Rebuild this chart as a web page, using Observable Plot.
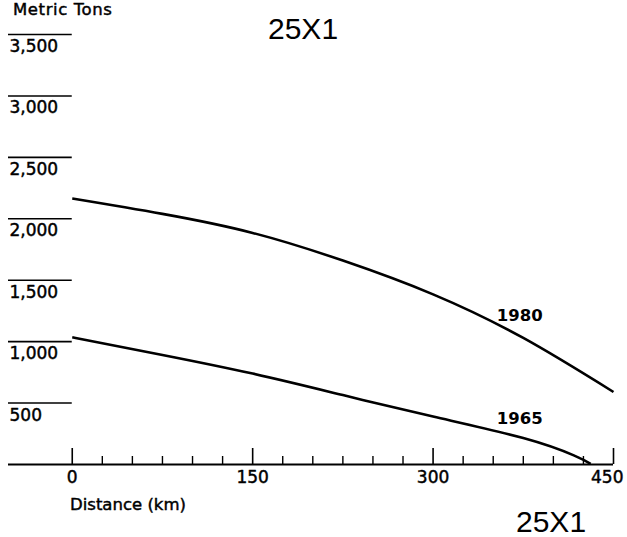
<!DOCTYPE html>
<html>
<head>
<meta charset="utf-8">
<script src="https://cdn.jsdelivr.net/npm/d3@7"></script>
<script src="https://cdn.jsdelivr.net/npm/@observablehq/plot@0.6"></script>
<style>
  html, body { margin: 0; padding: 0; background: #fff; }
  #wrap { position: relative; width: 627px; height: 537px; overflow: hidden; }
  #wrap > svg { position: absolute; left: 0; top: 0; }
  #overlay { position: absolute; left: 0; top: 0; pointer-events: none; }
</style>
</head>
<body>
<div id="wrap"></div>
<script>
// ---- data ----
const dist1980 = [0, 75, 150, 225, 300, 375, 450];
const tons1980 = [2165, 2040, 1885, 1660, 1385, 1030, 590];
const dist1965 = [0, 75, 150, 225, 300, 375, 417, 431];
const tons1965 = [1035, 892, 740, 565, 390, 215, 74, 5];
const yTicks = [500, 1000, 1500, 2000, 2500, 3000, 3500];
const yTickLabels = ["500", "1,000", "1,500", "2,000", "2,500", "3,000", "3,500"];
const xMajor = [0, 150, 300, 450];
const xMajorLabels = ["0", "150", "300", "450"];
const xMinor = [25, 50, 75, 100, 125, 175, 200, 225, 250, 275, 325, 350, 375, 400, 425];
const seriesLabels = ["1980", "1965"];
const labelX = [372, 372];
const labelY = [1210, 372];
const xMin = -53, xMax = 450;

const rows = [
  ...dist1980.map((d, i) => ({year: "1980", d, t: tons1980[i]})),
  ...dist1965.map((d, i) => ({year: "1965", d, t: tons1965[i]}))
];
const yt = yTicks.map((v, i) => ({v, s: yTickLabels[i]}));
const xm = xMajor.map((v, i) => ({v, s: xMajorLabels[i]}));
const xmInner = xm.slice(0, -1);
const xmLast = xm.slice(-1);
const lab = seriesLabels.map((s, i) => ({s, x: labelX[i], y: labelY[i]}));

const font = "DejaVu Sans, sans-serif";
const heavy = {fill: "#000", stroke: "#000", strokeWidth: 0.45};

const chart = Plot.plot({
  width: 627,
  height: 537,
  marginLeft: 8,
  marginRight: 14,
  marginTop: 34,
  marginBottom: 73,
  x: {domain: [xMin, xMax], axis: null},
  y: {domain: [0, 3500], axis: null},
  style: {fontFamily: font, background: "#fff", color: "#000"},
  marks: [
    // short horizontal gridline segments for the y ticks
    Plot.ruleY(yt, {y: "v", x1: xMin, x2: 0, stroke: "#000", strokeWidth: 1.6}),
    Plot.text(yt, {x: xMin, y: "v", text: "s", textAnchor: "start", lineAnchor: "middle",
      dy: 12, dx: 1, fontSize: 17, ...heavy, style: "letter-spacing:0.8px"}),
    // baseline
    Plot.ruleY([0], {stroke: "#000", strokeWidth: 2}),
    // ticks pointing upward
    Plot.ruleX(xMajor, {x: d => d, y1: 0, y2: 0, insetTop: -16, stroke: "#000", strokeWidth: 1.6}),
    Plot.ruleX(xMinor, {x: d => d, y1: 0, y2: 0, insetTop: -8, stroke: "#000", strokeWidth: 1.4}),
    Plot.text(xmInner, {x: "v", y: 0, text: "s", lineAnchor: "middle", dy: 13, fontSize: 17,
      ...heavy, style: "letter-spacing:0.8px"}),
    Plot.text(xmLast, {x: "v", y: 0, text: "s", lineAnchor: "middle", textAnchor: "end",
      dy: 13, dx: 10, fontSize: 17, ...heavy, style: "letter-spacing:0.8px"}),
    // curves
    Plot.line(rows, {x: "d", y: "t", z: "year", curve: "natural", stroke: "#000",
      strokeWidth: 2.6, strokeLinecap: "butt"}),
    Plot.text(lab, {x: "x", y: "y", text: "s", fontSize: 16.5, fontWeight: "bold",
      lineAnchor: "middle", fill: "#000"})
  ]
});

const wrap = document.getElementById("wrap");
wrap.appendChild(chart);

// annotation texts
const ns = "http://www.w3.org/2000/svg";
const ov = document.createElementNS(ns, "svg");
ov.setAttribute("id", "overlay");
ov.setAttribute("width", 627);
ov.setAttribute("height", 537);
const notes = [
  {t: "Metric Tons", x: 13, y: 15, size: 16.5, fam: font, ls: 0.6, sw: 0.45},
  {t: "Distance (km)", x: 70, y: 510, size: 16.5, fam: font, ls: 0, sw: 0.45},
  {t: "25X1", x: 268, y: 39, size: 30, fam: "Liberation Sans, Arial, sans-serif", ls: 0, sw: 0},
  {t: "25X1", x: 516, y: 532, size: 30, fam: "Liberation Sans, Arial, sans-serif", ls: 0, sw: 0}
];
for (const n of notes) {
  const el = document.createElementNS(ns, "text");
  el.setAttribute("x", n.x);
  el.setAttribute("y", n.y);
  el.setAttribute("font-size", n.size);
  el.setAttribute("font-family", n.fam);
  el.setAttribute("fill", "#000");
  if (n.sw) { el.setAttribute("stroke", "#000"); el.setAttribute("stroke-width", n.sw); }
  el.setAttribute("letter-spacing", n.ls);
  el.textContent = n.t;
  ov.appendChild(el);
}
wrap.appendChild(ov);
</script>
</body>
</html>
